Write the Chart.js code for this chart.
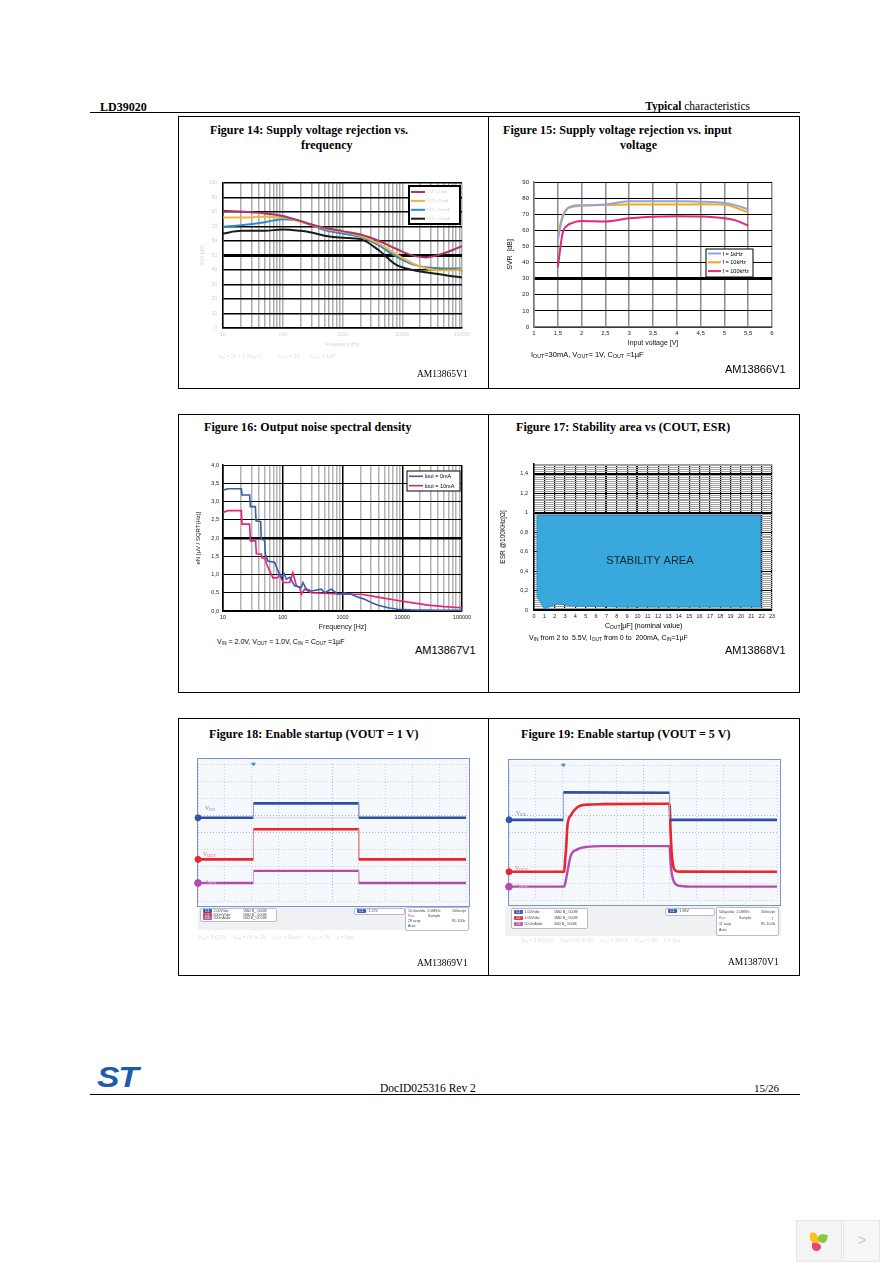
<!DOCTYPE html>
<html>
<head>
<meta charset="utf-8">
<title>LD39020 typical characteristics</title>
<script src="https://cdn.jsdelivr.net/npm/chart.js@4.4.1/dist/chart.umd.min.js"></script>
<style>
  body { margin: 0; width: 892px; height: 1262px; background: #fff; position: relative; overflow: hidden; }
  .t { position: absolute; white-space: nowrap; line-height: 1; }
  .serif { font-family: "Liberation Serif", "Times New Roman", serif; }
  .sans { font-family: "Liberation Sans", Arial, sans-serif; }
  .fig { font-family: "Liberation Serif", serif; font-weight: bold; font-size: 12px; letter-spacing: 0.05px; }
  .hline { position: absolute; height: 0; border-top: 1px solid #000; }
  .box { position: absolute; border: 1px solid #000; box-sizing: border-box; }
  canvas { position: absolute; }
  sub { font-size: 70%; vertical-align: -0.25em; line-height: 0; }
  .scope { position: absolute; border: 1px solid #7b93d3; background: #f5f8fc; }
  .panel { position: absolute; background: #f0f1f3; }
  .pbox { position: absolute; background: #fff; border: 1px solid #b9bcc4; border-radius: 2px;
          font: 3.6px "Liberation Sans", Arial, sans-serif; color: #444; }
  .pbox span { position: absolute; white-space: nowrap; line-height: 1; }
  .badge { color: #fff; border-radius: 1px; padding: 0 2px; }
  .faint { color: #dedede; }
</style>
</head>
<body>

<!-- page header -->
<div class="t serif" style="left:100px;top:101px;font-size:12px;font-weight:bold;">LD39020</div>
<div class="t serif" style="right:142px;top:101px;font-size:11.5px;"><b>Typical</b> characteristics</div>
<div class="hline" style="left:90px;top:112px;width:710px;"></div>

<!-- frames -->
<div class="box" style="left:178px;top:116px;width:311px;height:273px;"></div>
<div class="box" style="left:488px;top:116px;width:312px;height:273px;"></div>
<div class="box" style="left:178px;top:414px;width:311px;height:279px;"></div>
<div class="box" style="left:488px;top:414px;width:312px;height:279px;"></div>
<div class="box" style="left:178px;top:718px;width:311px;height:258px;"></div>
<div class="box" style="left:488px;top:718px;width:312px;height:258px;"></div>

<!-- Figure 14 -->
<div class="t fig" style="left:210px;top:124px;">Figure 14: Supply voltage rejection vs.</div>
<div class="t fig" style="left:301px;top:139px;">frequency</div>
<canvas id="fig14" width="286" height="180" style="left:190px;top:175px;"></canvas>
<div class="t sans faint" style="left:218px;top:354px;font-size:5px;">V<sub>IN</sub> = 2V + 0.5V<sub>PP</sub>/V &nbsp; &nbsp; &nbsp; &nbsp; &nbsp; V<sub>OUT</sub> = 1V &nbsp; &nbsp; &nbsp; C<sub>OUT</sub> = 1µF</div>
<div class="t serif" style="left:417px;top:370px;font-size:9.5px;">AM13865V1</div>

<!-- Figure 15 -->
<div class="t fig" style="left:503px;top:124px;">Figure 15: Supply voltage rejection vs. input</div>
<div class="t fig" style="left:620px;top:139px;">voltage</div>
<canvas id="fig15" width="290" height="175" style="left:495px;top:175px;"></canvas>
<div class="t sans" style="left:531px;top:351px;font-size:7.5px;">I<sub>OUT</sub>=30mA, V<sub>OUT</sub>= 1V, C<sub>OUT</sub> =1µF</div>
<div class="t sans" style="left:725px;top:364px;font-size:11px;">AM13866V1</div>

<!-- Figure 16 -->
<div class="t fig" style="left:204px;top:421px;">Figure 16: Output noise spectral density</div>
<canvas id="fig16" width="286" height="180" style="left:190px;top:458px;"></canvas>
<div class="t sans" style="left:217px;top:638px;font-size:7px;">V<sub>IN</sub> = 2.0V, V<sub>OUT</sub> = 1.0V, C<sub>IN</sub> = C<sub>OUT</sub> =1µF</div>
<div class="t sans" style="left:415px;top:645px;font-size:11px;">AM13867V1</div>

<!-- Figure 17 -->
<div class="t fig" style="left:516px;top:421px;">Figure 17: Stability area vs (COUT, ESR)</div>
<canvas id="fig17" width="290" height="183" style="left:495px;top:455px;"></canvas>
<div class="t sans" style="left:605px;top:622px;font-size:7px;">C<sub>OUT</sub>[µF] (nominal value)</div>
<div class="t sans" style="left:529px;top:634px;font-size:7px;">V<sub>IN</sub> from 2 to &nbsp;5.5V, I<sub>OUT</sub> from 0 to &nbsp;200mA, C<sub>IN</sub>=1µF</div>
<div class="t sans" style="left:725px;top:645px;font-size:11px;">AM13868V1</div>

<!-- Figure 18 -->
<div class="t fig" style="left:209px;top:728px;">Figure 18: Enable startup (VOUT = 1 V)</div>
<div class="scope" style="left:197px;top:758px;width:271px;height:147px;"></div>
<canvas id="fig18" width="279" height="147" style="left:192px;top:759px;"></canvas>
<div class="t serif" style="left:205px;top:805px;font-size:6px;color:#6f86c4;">V<sub>EN</sub></div>
<div class="t serif" style="left:203px;top:851px;font-size:6px;color:#e86a6a;">V<sub>OUT</sub></div>
<div class="t serif" style="left:206px;top:879px;font-size:6px;color:#c070c0;">I<sub style="color:#ecd0ec;">OUT</sub></div>
<div class="panel" style="left:198px;top:907px;width:272px;height:23px;"></div>
<div class="pbox" style="left:200px;top:908px;width:75px;height:12px;">
  <span style="left:2px;top:1px;"><span class="badge" style="position:static;background:#3b5fb5;">C1</span>&nbsp; 2.00V/div</span><span style="left:42px;top:1px;">1MΩ B<sub>W</sub>:500M</span>
  <span style="left:2px;top:4.8px;"><span class="badge" style="position:static;background:#e0393d;">C2</span>&nbsp; 500mV/div</span><span style="left:42px;top:4.8px;">1MΩ B<sub>W</sub>:500M</span>
  <span style="left:2px;top:8.4px;"><span class="badge" style="position:static;background:#b857b8;">C3</span>&nbsp; 500mA/div</span><span style="left:42px;top:8.4px;">50Ω B<sub>W</sub>:20.0M</span>
</div>
<div class="pbox" style="left:354px;top:908px;width:49px;height:5px;">
  <span style="left:2px;top:0.5px;"><span class="badge" style="position:static;background:#3b5fb5;">C1</span> / 1.12V</span>
</div>
<div class="pbox" style="left:405px;top:907px;width:62px;height:22px;">
  <span style="left:2px;top:2px;">10.0ms/div &nbsp;2.0MS/s</span><span style="left:46px;top:2px;">100ns/pt</span>
  <span style="left:2px;top:7px;color:#c03cc0;">Run</span><span style="left:22px;top:7px;">Sample</span>
  <span style="left:2px;top:12px;">28 acqs</span><span style="left:46px;top:12px;">RL:100k</span>
  <span style="left:2px;top:17px;">Auto</span>
</div>
<div class="t sans faint" style="left:198px;top:935px;font-size:5px;">V<sub>IN</sub> = 2V(2)V &nbsp; &nbsp; V<sub>EN</sub> = 0V to 2V &nbsp; &nbsp; I<sub>OUT</sub> = 30mA &nbsp; &nbsp; V<sub>OUT</sub> = 1V &nbsp; &nbsp; t<sub>r</sub> = 5µs</div>
<div class="t serif" style="left:417px;top:959px;font-size:9.5px;">AM13869V1</div>

<!-- Figure 19 -->
<div class="t fig" style="left:521px;top:728px;">Figure 19: Enable startup (VOUT = 5 V)</div>
<div class="scope" style="left:508px;top:759px;width:271px;height:145px;"></div>
<canvas id="fig19" width="279" height="145" style="left:503px;top:760px;"></canvas>
<div class="t serif" style="left:516px;top:810px;font-size:6px;color:#6f86c4;">V<sub>EN</sub></div>
<div class="t serif" style="left:515px;top:865px;font-size:6px;color:#e86a6a;">V<sub>OUT</sub></div>
<div class="t serif" style="left:517px;top:883px;font-size:6px;color:#c070c0;">I<sub style="color:#ecd0ec;">OUT</sub></div>
<div class="panel" style="left:505px;top:906px;width:276px;height:30px;"></div>
<div class="pbox" style="left:511px;top:908px;width:75px;height:19px;">
  <span style="left:2px;top:1.5px;"><span class="badge" style="position:static;background:#3b5fb5;">C1</span>&nbsp; 1.00V/div</span><span style="left:42px;top:1.5px;">1MΩ B<sub>W</sub>:500M</span>
  <span style="left:2px;top:7.5px;"><span class="badge" style="position:static;background:#e0393d;">C2</span>&nbsp; 1.00V/div</span><span style="left:42px;top:7.5px;">1MΩ B<sub>W</sub>:500M</span>
  <span style="left:2px;top:13.5px;"><span class="badge" style="position:static;background:#b857b8;">C3</span>&nbsp; 50.0mA/div</span><span style="left:42px;top:13.5px;">50Ω B<sub>W</sub>:500M</span>
</div>
<div class="pbox" style="left:665px;top:908px;width:48px;height:6px;">
  <span style="left:2px;top:1px;"><span class="badge" style="position:static;background:#3b5fb5;">C1</span> / 1.88V</span>
</div>
<div class="pbox" style="left:716px;top:907px;width:61px;height:27px;">
  <span style="left:2px;top:2.5px;">500µs/div &nbsp;2.0MS/s</span><span style="left:44px;top:2.5px;">500ns/pt</span>
  <span style="left:2px;top:8.5px;color:#c03cc0;">Run</span><span style="left:22px;top:8.5px;">Sample</span>
  <span style="left:54px;top:8px;color:#3b5fb5;font-size:5px;">↕</span>
  <span style="left:2px;top:14.5px;">11 acqs</span><span style="left:44px;top:14.5px;">RL:10.0k</span>
  <span style="left:2px;top:20.5px;">Auto</span>
</div>
<div class="t sans faint" style="left:521px;top:938px;font-size:5px;">V<sub>IN</sub> = 5.5V(2)V &nbsp; &nbsp; V<sub>EN</sub> = 0V to 2V &nbsp; &nbsp; I<sub>OUT</sub> = 30mA &nbsp; &nbsp; V<sub>OUT</sub> = 5V &nbsp; &nbsp; t<sub>r</sub> = 5µs</div>
<div class="t serif" style="left:728px;top:958px;font-size:9.5px;">AM13870V1</div>

<!-- page footer -->
<div class="t sans" style="left:97px;top:1062px;font-size:30px;font-weight:bold;font-style:italic;color:#1d5cab;letter-spacing:-1px;transform:scaleX(1.12);transform-origin:left top;">ST</div>
<div class="t serif" style="left:380px;top:1083px;font-size:11.5px;">DocID025316 Rev 2</div>
<div class="t serif" style="left:754px;top:1083px;font-size:11px;">15/26</div>
<div class="hline" style="left:90px;top:1094px;width:710px;"></div>

<!-- viewer widget, bottom right -->
<div style="position:absolute;left:796px;top:1220px;width:46px;height:42px;background:#f4f4f4;border:1px solid #e6e6e6;box-sizing:border-box;"></div>
<div style="position:absolute;left:843px;top:1220px;width:37px;height:42px;background:#f7f7f7;border:1px solid #e6e6e6;box-sizing:border-box;"></div>
<div style="position:absolute;left:810px;top:1232px;width:8px;height:12px;border-radius:50% 50% 0 50%;background:#f7c21f;transform:rotate(-20deg);"></div>
<div style="position:absolute;left:818px;top:1234px;width:9px;height:9px;border-radius:50% 0 50% 50%;background:#8cc63e;transform:rotate(15deg);"></div>
<div style="position:absolute;left:812px;top:1243px;width:9px;height:8px;border-radius:0 50% 50% 50%;background:#e8457b;"></div>
<div class="t sans" style="left:858px;top:1233px;font-size:14px;color:#c4c4c4;">&gt;</div>

<script>
// ---------- Figure 14: SVR vs frequency ----------
const svrFreqHz = [10, 20, 50, 100, 200, 300, 500, 1000, 2000, 4000, 8000, 15000, 25000, 40000, 70000, 100000];
const svrFreqA = [80.8, 80.3, 79, 77.3, 73.7, 71.4, 69.1, 66.8, 64.5, 60.2, 54.5, 49.9, 48.7, 50.3, 53.8, 56.5];
const svrFreqB = [76.2, 76.2, 76.7, 76.4, 73.2, 71, 68.6, 66.4, 63.6, 58.4, 50.8, 44.6, 41.2, 39.8, 39.8, 40.5];
const svrFreqC = [69.8, 70.9, 73, 75, 73.7, 71.4, 67.5, 65.2, 62.9, 57.2, 49.2, 43.9, 41.9, 41.2, 41, 41];
const svrFreqD = [65.2, 67, 67, 68, 67, 65.9, 63.6, 62.2, 61.3, 53.8, 43.5, 40, 38.4, 37.3, 35.7, 34.8];
const svrFreqLabels = ['IOUT = 1mA', 'IOUT = 10mA', 'IOUT = 100mA', 'IOUT = 200mA'];
const svrDbTicks = [0, 10, 20, 30, 40, 50, 60, 70, 80, 90, 100];

// ---------- Figure 15: SVR vs input voltage ----------
const svrVinV = [1.5, 1.6, 1.7, 1.8, 1.9, 2, 2.5, 3, 3.5, 4, 4.5, 5, 5.25, 5.5];
const svrVin1k = [54, 68, 73.5, 75, 75.5, 75.5, 76, 78, 78, 78, 77.8, 77, 75.5, 73];
const svrVin10k = [57, 69, 73.5, 74.5, 75, 75.3, 75.8, 76, 76, 76, 76.2, 76, 74, 71];
const svrVin100k = [37, 58, 63, 64.5, 65.5, 65.8, 65.5, 67.5, 68.5, 68.8, 68.6, 67.5, 66, 63];
const svrVinLabels = ['f = 1kHz', 'f = 10kHz', 'f = 100kHz'];

// ---------- Figure 16: output noise (step traces) ----------
const noise0Hz = [10, 12.1, 20.3, 20.8, 27.9, 28.7, 34.8, 35.7, 42.7, 43.8, 49.8, 51.1, 56.6, 73.3, 83.3, 94.7, 105, 115, 131, 158, 205, 218, 248, 301, 443, 503, 650, 841, 1087, 1406, 1817, 2350, 3039, 3928, 5776, 8492, 14200, 39600, 100000];
const noise0Uv = [3.31, 3.35, 3.35, 3.18, 3.18, 2.86, 2.86, 2.47, 2.45, 1.97, 1.94, 1.56, 1.37, 1.33, 1.1, 0.92, 1.03, 0.87, 0.92, 0.69, 0.64, 0.78, 0.6, 0.55, 0.6, 0.5, 0.6, 0.46, 0.49, 0.46, 0.38, 0.32, 0.23, 0.16, 0.09, 0.05, 0.03, 0.02, 0.02];
const noise10Hz = [10, 12.1, 20.3, 20.8, 27.9, 28.7, 35.2, 36.1, 43.8, 45, 51.1, 53.1, 60.4, 68.7, 83.3, 88.8, 101, 131, 148, 169, 192, 205, 233, 301, 572, 1087, 2066, 3928, 7470, 14200, 27000, 51300, 100000];
const noise10Uv = [2.7, 2.75, 2.75, 2.38, 2.38, 1.92, 1.92, 1.57, 1.56, 1.45, 1.44, 1.3, 1.1, 0.9, 0.92, 1.0, 0.78, 0.78, 1.05, 0.69, 0.64, 0.46, 0.6, 0.5, 0.48, 0.46, 0.46, 0.38, 0.30, 0.23, 0.16, 0.12, 0.09];
const noiseLabels = ['Iout = 0mA', 'Iout = 10mA'];

// shared log axis of figures 14 and 16
const freqDecades = [10, 100, 1000, 10000, 100000];
const freqDecadeLabels = ['10', '100', '1000', '10000', '100000'];

// ---------- Figure 17: stability area outline ----------
const stabCoutUf = [0.3, 21.9, 21.9, 8.4, 3.9, 2.2, 1.0, 0.35, 0.3];
const stabEsrOhm = [0.97, 0.97, 0.03, 0.03, 0.04, 0.065, 0.012, 0.13, 0.97];
const esrMajorTicks = [0, 0.2, 0.4, 0.6, 0.8, 1, 1.2, 1.4];
const esrMajorLabels = ['0', '0,2', '0,4', '0,6', '0,8', '1', '1,2', '1,4'];

// ---------- Figures 18 / 19: scope traces, in screen divisions ----------
const scope18EnX = [0, 2.07, 2.07, 6.0, 6.0, 10];
const scope18EnY = [4.86, 4.86, 5.70, 5.70, 4.86, 4.86];
const scope18OutX = [0, 2.07, 2.07, 6.0, 6.0, 10];
const scope18OutY = [2.43, 2.43, 4.19, 4.19, 2.43, 2.43];
const scope18IX = [0, 2.07, 2.07, 6.0, 6.0, 10];
const scope18IY = [1.05, 1.05, 1.76, 1.76, 1.05, 1.05];
const scope18RefX = [2.07, 6.0];
const scope18RefY = [4.86, 4.86];

const scope19EnX = [0, 2.03, 2.03, 5.99, 5.99, 10];
const scope19EnY = [4.75, 4.75, 6.38, 6.36, 4.75, 4.75];
const scope19OutX = [0, 2.06, 2.1, 2.13, 2.18, 2.3, 2.55, 2.92, 3.5, 5.99, 6.03, 6.08, 6.13, 6.2, 6.35, 10];
const scope19OutY = [1.67, 1.67, 2.5, 3.0, 4.4, 5.0, 5.5, 5.65, 5.68, 5.7, 4.0, 2.6, 2.0, 1.75, 1.68, 1.67];
const scope19IX = [0, 2.06, 2.1, 2.18, 2.3, 2.55, 2.92, 3.5, 5.99, 6.03, 6.08, 6.15, 6.25, 6.45, 6.8, 10];
const scope19IY = [0.79, 0.79, 1.0, 1.67, 2.6, 3.0, 3.15, 3.19, 3.19, 2.2, 1.5, 1.1, 0.9, 0.82, 0.79, 0.79];

const FAINT = '#d2d2d2';
const SANS = '"Liberation Sans", Arial, sans-serif';

Chart.defaults.font.family = SANS;
Chart.defaults.animation = false;
Chart.defaults.responsive = false;
Chart.defaults.plugins.legend.display = false;
Chart.defaults.plugins.tooltip.enabled = false;
Chart.defaults.elements.point.radius = 0;

// legend box drawn inside the plot area
const insetLegend = {
    id: 'insetLegend',
    afterDatasetsDraw(chart, args, o) {
        if (!o || !o.width) return;
        const ctx = chart.ctx, area = chart.chartArea;
        const x = area.right - o.right - o.width, y = area.top + o.top;
        ctx.save();
        ctx.fillStyle = '#fff';
        ctx.fillRect(x, y, o.width, o.height);
        ctx.strokeStyle = '#000';
        ctx.lineWidth = o.borderWidth || 1;
        ctx.strokeRect(x, y, o.width, o.height);
        ctx.font = o.font;
        ctx.textBaseline = 'middle';
        chart.data.datasets.filter(d => d.label).forEach((d, i) => {
            const cy = y + o.padTop + i * o.rowH;
            ctx.strokeStyle = d.borderColor;
            ctx.lineWidth = d.borderWidth;
            ctx.beginPath();
            ctx.moveTo(x + o.padLeft, cy);
            ctx.lineTo(x + o.padLeft + o.sample, cy);
            ctx.stroke();
            ctx.fillStyle = o.color;
            ctx.fillText(d.label, x + o.padLeft + o.sample + 1.5, cy + 0.5);
        });
        ctx.restore();
    }
};

// text placed at data coordinates
const areaLabel = {
    id: 'areaLabel',
    afterDatasetsDraw(chart, args, o) {
        if (!o || !o.text) return;
        const ctx = chart.ctx;
        ctx.save();
        ctx.font = o.font;
        ctx.fillStyle = o.color;
        ctx.textAlign = 'center';
        ctx.textBaseline = 'middle';
        ctx.fillText(o.text, chart.scales.x.getPixelForValue(o.x), chart.scales.y.getPixelForValue(o.y));
        ctx.restore();
    }
};
Chart.register(insetLegend, areaLabel);

function fitX(h) { return s => { s.height = h; s.paddingLeft = 0; s.paddingRight = 0; }; }
function fitY(w) { return s => { s.width = w; s.paddingTop = 0; s.paddingBottom = 0; }; }
function pts(xs, ys) { return xs.map((x, i) => ({x: x, y: ys[i]})); }

// 1..9 x decade grid lines; only the decades get a label
function logGridTicks(scale) {
    const values = [];
    for (let d = 0; d < freqDecades.length - 1; d++) {
        for (let m = 1; m < 10; m++) values.push(freqDecades[d] * m);
    }
    values.push(freqDecades[freqDecades.length - 1]);
    scale.ticks = values.map(v => ({value: v}));
}
function decadeLabel(value) {
    const i = freqDecades.indexOf(value);
    return i >= 0 ? freqDecadeLabels[i] : '';
}
function comma(v) { return String(v).replace('.', ','); }

// Figure 14
new Chart(document.getElementById('fig14'), {
    type: 'line',
    data: {
        datasets: [
            {label: svrFreqLabels[0], data: pts(svrFreqHz, svrFreqA), borderColor: '#a8336e', borderWidth: 2},
            {label: svrFreqLabels[1], data: pts(svrFreqHz, svrFreqB), borderColor: '#f9b234', borderWidth: 2},
            {label: svrFreqLabels[2], data: pts(svrFreqHz, svrFreqC), borderColor: '#2b8bc6', borderWidth: 2},
            {label: svrFreqLabels[3], data: pts(svrFreqHz, svrFreqD), borderColor: '#1a1a1a', borderWidth: 2}
        ]
    },
    options: {
        layout: {padding: {top: 8, right: 14, left: 0, bottom: 0}},
        elements: {line: {cubicInterpolationMode: 'monotone'}},
        scales: {
            x: {
                type: 'logarithmic', min: 10, max: 100000,
                afterBuildTicks: logGridTicks, afterFit: fitX(27),
                ticks: {autoSkip: false, maxRotation: 0, padding: 4, font: {size: 5}, color: FAINT, callback: decadeLabel},
                grid: {color: '#adadad', lineWidth: 1.5, drawTicks: false},
                border: {color: '#000', width: 1.5},
                title: {display: true, text: 'Frequency [Hz]', color: FAINT, font: {size: 5}, padding: {top: 0, bottom: 7}}
            },
            y: {
                min: 0, max: 100, afterFit: fitY(33),
                afterBuildTicks: s => { s.ticks = svrDbTicks.map(v => ({value: v})); },
                ticks: {padding: 6, font: {size: 5}, color: FAINT},
                grid: {color: '#000', lineWidth: c => (c.tick.value === 50 ? 3 : 1.5), drawTicks: false},
                border: {color: '#000', width: 1.5},
                title: {display: true, text: 'SVR [dB]', color: FAINT, font: {size: 5}, padding: {top: 10, bottom: 0}}
            }
        },
        plugins: {
            insetLegend: {right: 2, top: 3, width: 51, height: 38, padTop: 6, rowH: 8.9, padLeft: 2, sample: 14,
                          borderWidth: 2, font: '3.5px ' + SANS, color: FAINT}
        }
    }
});

// Figure 15
new Chart(document.getElementById('fig15'), {
    type: 'line',
    data: {
        datasets: [
            {label: svrVinLabels[0], data: pts(svrVinV, svrVin1k), borderColor: '#8ea6d8', borderWidth: 2},
            {label: svrVinLabels[1], data: pts(svrVinV, svrVin10k), borderColor: '#f6a623', borderWidth: 2},
            {label: svrVinLabels[2], data: pts(svrVinV, svrVin100k), borderColor: '#e2267c', borderWidth: 2}
        ]
    },
    options: {
        layout: {padding: {top: 7, right: 13, left: 0, bottom: 0}},
        elements: {line: {cubicInterpolationMode: 'monotone'}},
        scales: {
            x: {
                type: 'linear', min: 1, max: 6, afterFit: fitX(23),
                ticks: {stepSize: 0.5, maxRotation: 0, autoSkip: false, padding: 3, font: {size: 6}, color: '#222', callback: v => comma(v)},
                grid: {color: '#8c8c8c', lineWidth: 1.5, drawTicks: false},
                border: {color: '#777', width: 1.5},
                title: {display: true, text: 'Input voltage [V]', color: '#111', font: {size: 7}, padding: {top: 0, bottom: 3}}
            },
            y: {
                min: 0, max: 90, afterFit: fitY(39),
                ticks: {stepSize: 10, padding: 5, font: {size: 6}, color: '#222'},
                grid: {color: '#000', lineWidth: c => (c.tick.value === 30 ? 3 : 1), drawTicks: false},
                border: {color: '#777', width: 1.5},
                title: {display: true, text: 'SVR  [dB]', color: '#111', font: {size: 7}, padding: {top: 11, bottom: 0}}
            }
        },
        plugins: {
            insetLegend: {right: 19, top: 67, width: 47, height: 28, padTop: 4.5, rowH: 8.8, padLeft: 2, sample: 13,
                          borderWidth: 1, font: '5.5px ' + SANS, color: '#000'}
        }
    }
});

// Figure 16
new Chart(document.getElementById('fig16'), {
    type: 'line',
    data: {
        datasets: [
            {label: noiseLabels[0], data: pts(noise0Hz, noise0Uv), borderColor: '#3b5cab', borderWidth: 1.6},
            {label: noiseLabels[1], data: pts(noise10Hz, noise10Uv), borderColor: '#e6247c', borderWidth: 1.6}
        ]
    },
    options: {
        layout: {padding: {top: 7, right: 14, left: 0, bottom: 0}},
        scales: {
            x: {
                type: 'logarithmic', min: 10, max: 100000,
                afterBuildTicks: logGridTicks, afterFit: fitX(27),
                ticks: {autoSkip: false, maxRotation: 0, padding: 3, font: {size: 5.5}, color: '#222', callback: decadeLabel},
                grid: {color: c => (freqDecades.includes(c.tick.value) ? '#000' : '#b4b4b4'), lineWidth: 1.5, drawTicks: false},
                border: {color: '#000', width: 1.5},
                title: {display: true, text: 'Frequency [Hz]', color: '#111', font: {size: 7}, padding: {top: 0, bottom: 7}}
            },
            y: {
                min: 0, max: 4, afterFit: fitY(33),
                ticks: {stepSize: 0.5, padding: 4, font: {size: 5.5}, color: '#222', callback: v => v.toFixed(1).replace('.', ',')},
                grid: {color: '#000', lineWidth: c => (c.tick.value === 2 ? 2.5 : 1), drawTicks: false},
                border: {color: '#000', width: 1.5},
                title: {display: true, text: 'eN [µV / SQRT(Hz)]', color: '#111', font: {size: 6}, padding: {top: 5, bottom: 0}}
            }
        },
        plugins: {
            insetLegend: {right: 2, top: 6, width: 53, height: 20, padTop: 5.3, rowH: 9.4, padLeft: 2, sample: 14,
                          borderWidth: 1, font: '5.5px ' + SANS, color: '#000'}
        }
    }
});

// Figure 17
new Chart(document.getElementById('fig17'), {
    type: 'line',
    data: {
        datasets: [{
            data: pts(stabCoutUf, stabEsrOhm), fill: 'shape', tension: 0,
            backgroundColor: '#39a8dd', borderColor: '#2a8fc7', borderWidth: 1
        }]
    },
    options: {
        layout: {padding: {top: 9, right: 13, left: 0, bottom: 0}},
        scales: {
            x: {
                type: 'linear', min: 0, max: 23, afterFit: fitX(28),
                ticks: {stepSize: 1, autoSkip: false, maxRotation: 0, padding: 3, font: {size: 5.5}, color: '#222'},
                grid: {color: '#000', lineWidth: c => ((c.tick.value === 7 || c.tick.value === 10) ? 2 : 1.2), drawTicks: false},
                border: {color: '#000', width: 1.5}
            },
            y: {
                min: 0, max: 1.5, afterFit: fitY(39),
                afterBuildTicks: s => {
                    const t = [];
                    for (let i = 0; i <= 75; i++) t.push({value: Math.round(i * 2) / 100});
                    s.ticks = t;
                },
                ticks: {autoSkip: false, padding: 6, font: {size: 5.5}, color: '#222', callback: v => {
                    const i = esrMajorTicks.findIndex(m => Math.abs(m - v) < 1e-6);
                    return i >= 0 ? esrMajorLabels[i] : '';
                }},
                grid: {
                    color: c => (esrMajorTicks.some(m => Math.abs(m - c.tick.value) < 1e-6) ? '#000' : '#a0a0a0'),
                    lineWidth: c => ((Math.abs(c.tick.value - 1) < 1e-6 || Math.abs(c.tick.value - 1.4) < 1e-6) ? 2 : 1),
                    drawTicks: false
                },
                border: {color: '#000', width: 1.5},
                title: {display: true, text: 'ESR @100KHz[Ω]', color: '#111', font: {size: 6.5}, padding: {top: 4, bottom: 0}}
            }
        },
        plugins: {
            areaLabel: {text: 'STABILITY AREA', x: 11.2, y: 0.5, font: '11px ' + SANS, color: '#15222e'}
        }
    }
});

// oscilloscope screens
function scopeChart(id, traces, markers) {
    const datasets = traces.map(tr => ({
        data: pts(tr.x, tr.y), borderColor: tr.color, borderWidth: tr.width, tension: 0,
        cubicInterpolationMode: tr.smooth ? 'monotone' : 'default',
        segment: {
            borderWidth: c => (Math.abs(c.p0.parsed.x - c.p1.parsed.x) < 0.02 ? 1 : tr.width),
            borderColor: c => (Math.abs(c.p0.parsed.x - c.p1.parsed.x) < 0.02 ? tr.edge : tr.color)
        }
    }));
    markers.forEach(m => datasets.push({
        data: [{x: m.x, y: m.y}], showLine: false, clip: false,
        pointRadius: m.r, pointStyle: m.style || 'circle', rotation: m.rotation || 0,
        pointBackgroundColor: m.color, pointBorderColor: m.color
    }));
    const dots = {color: c => (c.tick.value === 5 || c.tick.value === 4 && c.scale.axis === 'y' ? '#a9b4cc' : '#c9d1e2'), drawTicks: false};
    return new Chart(document.getElementById(id), {
        type: 'line',
        data: {datasets: datasets},
        options: {
            layout: {padding: {left: 6, right: 2, top: 0, bottom: 0}},
            scales: {
                x: {type: 'linear', min: 0, max: 10, afterFit: fitX(0), ticks: {display: false, stepSize: 1},
                    grid: dots, border: {display: false, dash: [1, 2]}},
                y: {min: 0, max: 8, afterFit: fitY(0), ticks: {display: false, stepSize: 1},
                    grid: dots, border: {display: false, dash: [1, 2]}}
            }
        }
    });
}

scopeChart('fig18', [
    {x: scope18RefX, y: scope18RefY, color: '#d3d7de', edge: '#d3d7de', width: 1},
    {x: scope18EnX, y: scope18EnY, color: '#2f4fa6', edge: '#8fa3d8', width: 2.6},
    {x: scope18OutX, y: scope18OutY, color: '#e8262b', edge: '#f08a8c', width: 2.6},
    {x: scope18IX, y: scope18IY, color: '#b24bb0', edge: '#d99ad8', width: 2.4}
], [
    {x: 0, y: scope18EnY[0], r: 3, color: '#3556ad'},
    {x: 0, y: scope18OutY[0], r: 3, color: '#e8262b'},
    {x: 0, y: scope18IY[0], r: 3.4, color: '#b24bb0'},
    {x: scope18EnX[1], y: 8, r: 2, style: 'triangle', rotation: 180, color: '#4a9ac8'}
]);

scopeChart('fig19', [
    {x: scope19EnX, y: scope19EnY, color: '#2f4fa6', edge: '#8fa3d8', width: 2.6},
    {x: scope19OutX, y: scope19OutY, color: '#e8262b', edge: '#f08a8c', width: 2.6, smooth: true},
    {x: scope19IX, y: scope19IY, color: '#b24bb0', edge: '#d99ad8', width: 2.4, smooth: true}
], [
    {x: 0, y: scope19EnY[0], r: 3, color: '#3556ad'},
    {x: 0, y: scope19OutY[0], r: 3, color: '#e8262b'},
    {x: 0, y: scope19IY[0], r: 3.4, color: '#b24bb0'},
    {x: scope19EnX[1], y: 8, r: 2, style: 'triangle', rotation: 180, color: '#4a9ac8'}
]);
</script>
</body>
</html>
